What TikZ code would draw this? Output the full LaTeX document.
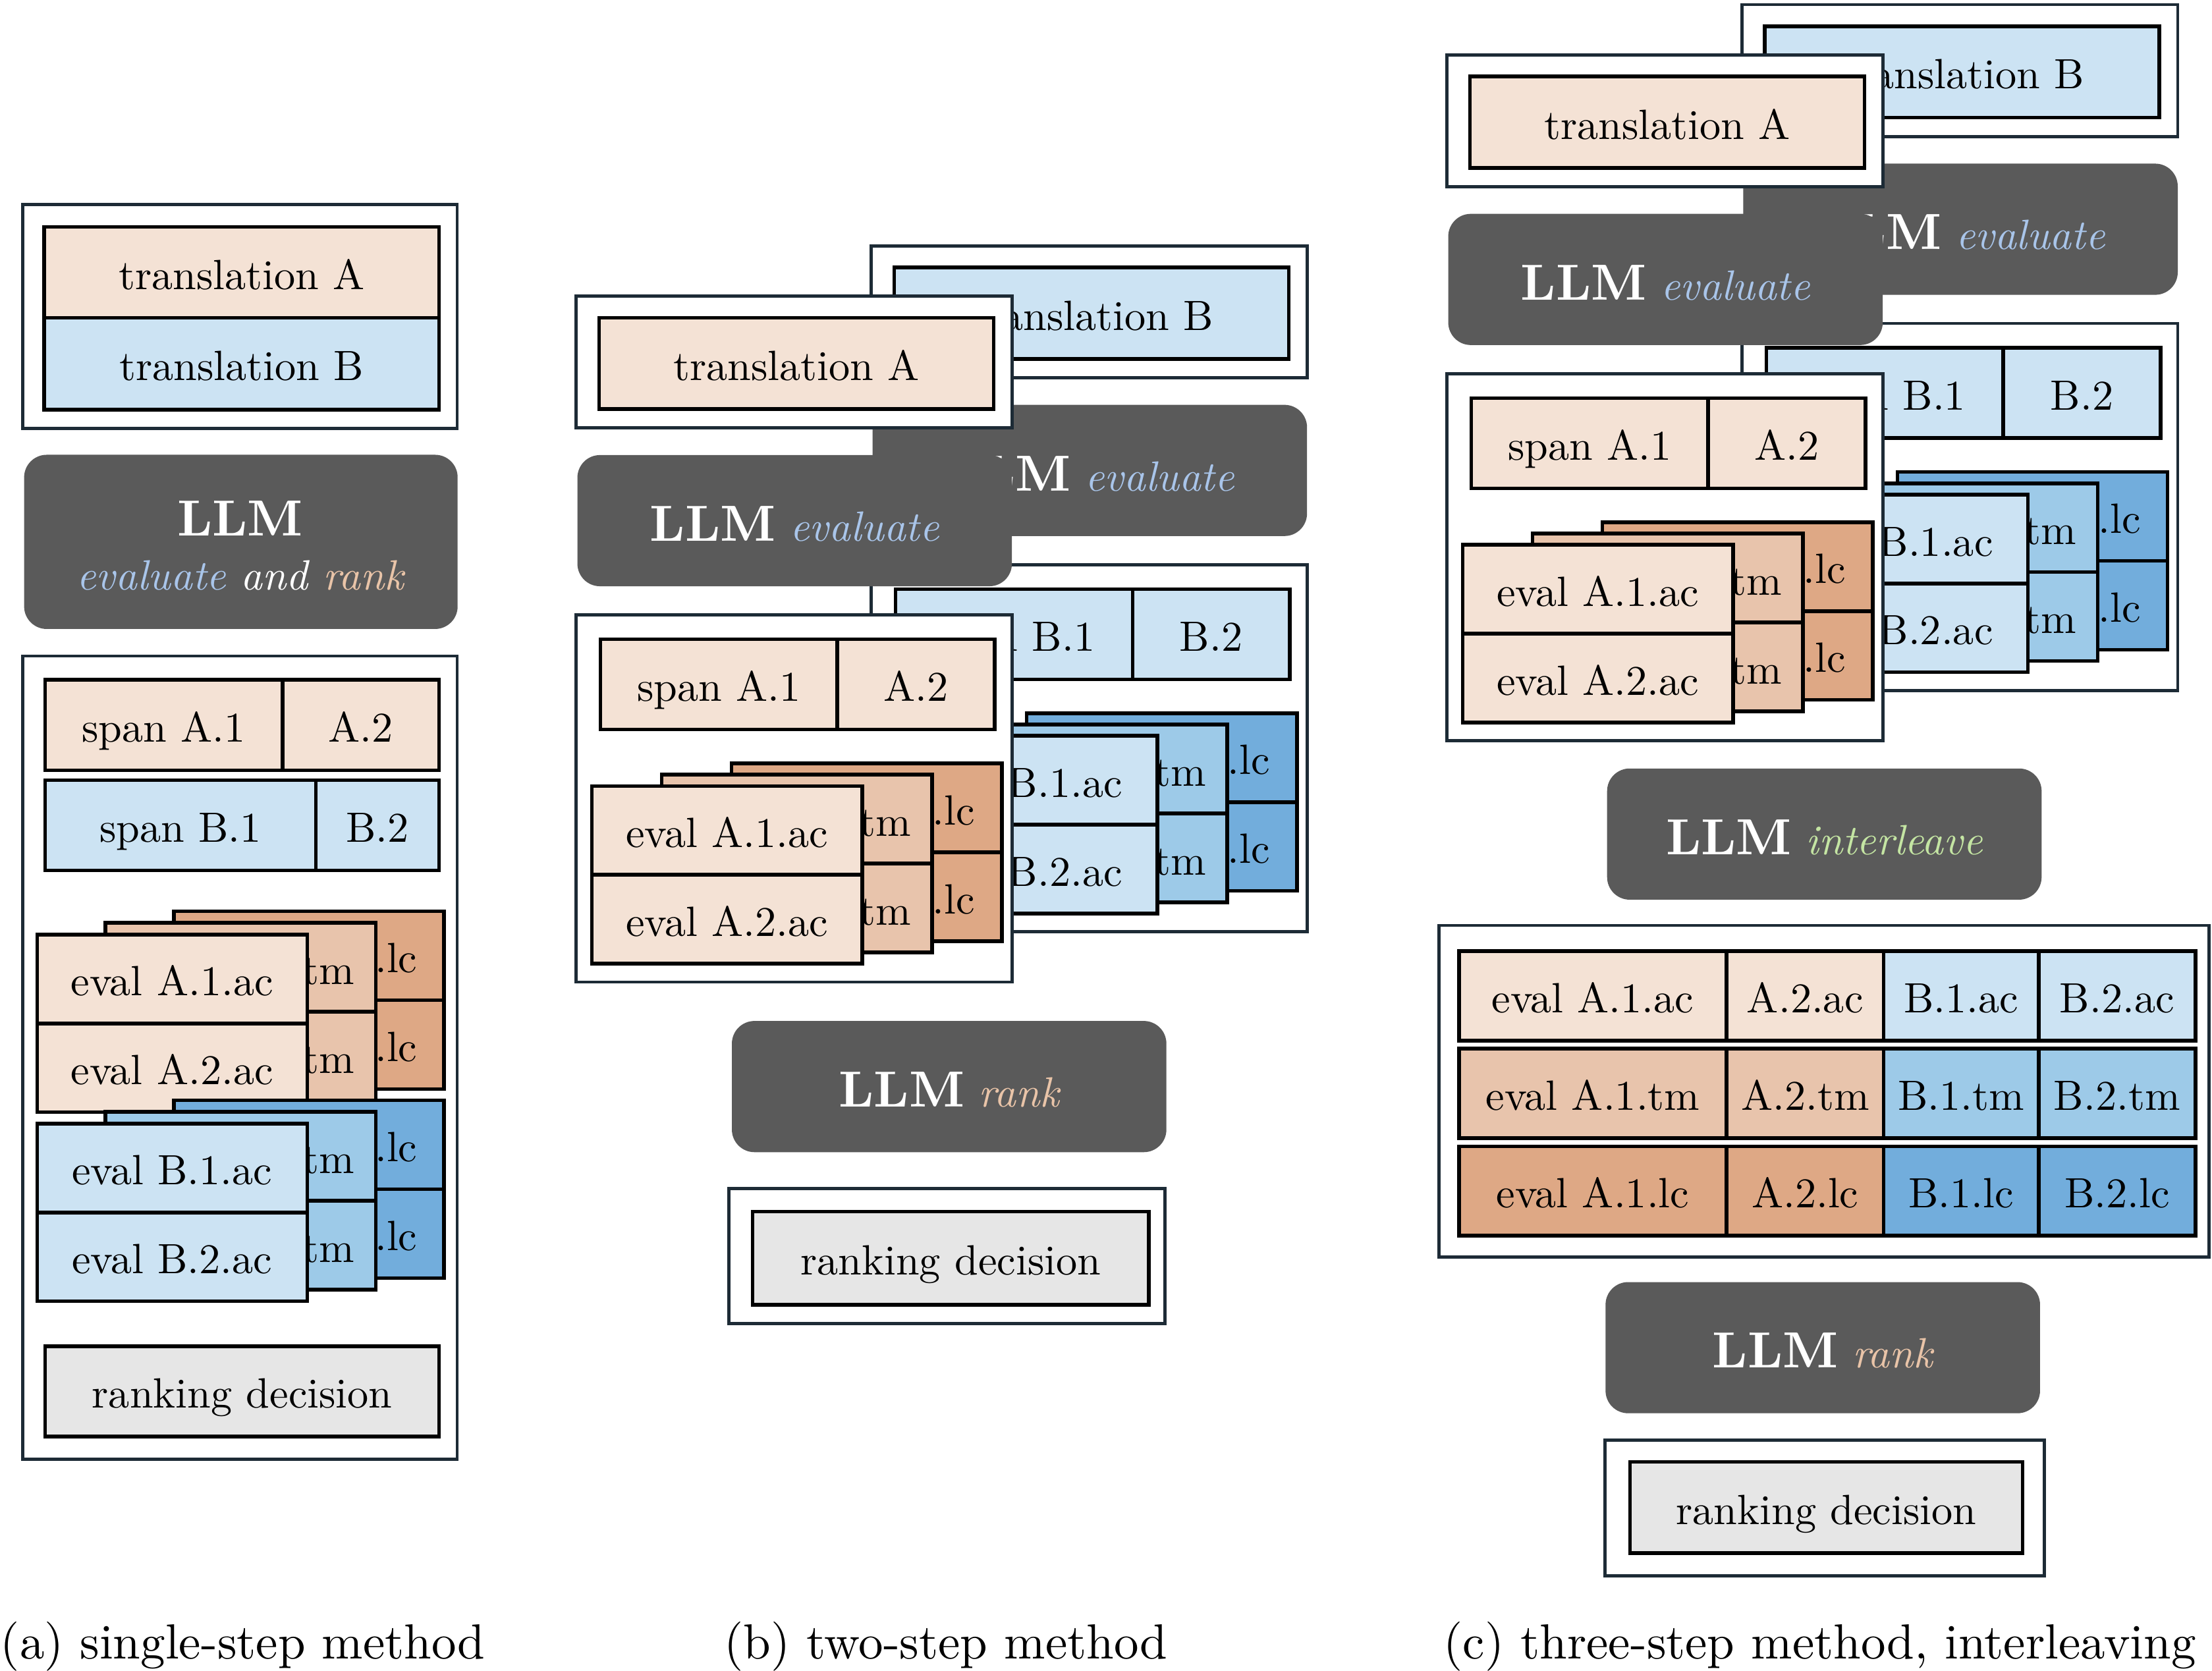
\documentclass[tikz,border=0pt]{standalone}
\usepackage{fontspec}
\setmainfont{lmroman10}[Extension=.otf, UprightFont=*-regular, BoldFont=*-bold, ItalicFont=*-italic]
\usepackage{tikz}

\definecolor{lightA}{HTML}{F4E2D5}
\definecolor{midA}{HTML}{E8C4AC}
\definecolor{darkA}{HTML}{DEA885}
\definecolor{lightB}{HTML}{CCE3F3}
\definecolor{midB}{HTML}{9DCAE8}
\definecolor{darkB}{HTML}{72ADDC}
\definecolor{llmgray}{HTML}{5A5A5A}
\definecolor{framenavy}{HTML}{1D2B36}
\definecolor{decgray}{HTML}{E6E6E6}
\definecolor{evalblue}{HTML}{A9C5EA}
\definecolor{rankpeach}{HTML}{E9C4A8}
\definecolor{leavegreen}{HTML}{C4E5A3}

\begin{document}
\begin{tikzpicture}[x=0.5pt, y=-0.5pt, font=\fontsize{15}{18}\selectfont,
    frame/.style={draw=framenavy, line width=1.1pt, fill=white},
    cell/.style={draw=black, line width=1.3pt, inner sep=0pt, anchor=north west, text height=14pt, text depth=2pt},
    card/.style={cell, minimum height=31.5pt, text width=80.75pt, inner xsep=7.5pt},
    backcard/.style={card, text width=76.75pt, inner xsep=9.5pt},
    llm/.style={fill=llmgray, rounded corners=8pt, text=white, inner sep=0pt, anchor=north west,
        text height=16pt, text depth=1.6pt, minimum width=154pt, minimum height=46.5pt},
    big/.style={font=\fontsize{18}{21}\selectfont\bfseries}]
        \useasboundingbox (0,0) rectangle (1568,1184.6);

        % (a) single-step method
        \draw [frame] (16,145) rectangle (324,303.7);
        \node[cell, fill=lightA, minimum width=140pt, minimum height=32.25pt] (trAa) at (30,159.5) {translation A};
        \node[cell, fill=lightB, minimum width=140pt, minimum height=32.5pt] (trBa) at (30,224) {translation B};

        \node[llm, minimum width=153.65pt, minimum height=61.75pt] (llma) at (16.7,322) {};
        \node[big, text=white, anchor=base] (llmaT) at (170.3,380) {LLM};
        \node[anchor=base, font=\fontsize{15}{18}\selectfont\itshape] (llmaS) at (170.3,418)
            {\textcolor{evalblue}{evaluate} \textcolor{white}{and} \textcolor{rankpeach}{rank}};

        \draw [frame] (16,465) rectangle (324,1034.6);
        \node[cell, fill=lightA, minimum width=84.15pt, minimum height=32pt] (spA1a) at (30.7,480.7) {span A.1};
        \node[cell, fill=lightA, minimum width=55.5pt, minimum height=32pt] (spA2a) at (199,480.7) {A.2};
        \node[cell, fill=lightB, minimum width=95.9pt, minimum height=32pt] (spB1a) at (30.7,551.8) {span B.1};
        \node[cell, fill=lightB, minimum width=43.75pt, minimum height=32pt] (spB2a) at (222.5,551.8) {B.2};
        \foreach \s/\y in {A/661.2, B/795.2}
            \foreach \lay/\col/\crit/\kind/\al in {2/dark/lc/backcard/right, 1/mid/tm/card/right, 0/light/ac/card/center}
                \foreach \row in {1,2}
                    \node[\kind, fill=\col\s, align=\al] (ev\s\row\crit a) at ({25+48.5*\lay},{\y-8.2*\lay+63*(\row-1)}) {eval \s.\row.\crit};
        \node[cell, fill=decgray, minimum width=139.65pt, minimum height=32pt] (deca) at (30.7,953) {ranking decision};

        % (b) two-step method and top of (c)
        \foreach \gx/\gy/\g/\p in {617.5/400.3/B/b, 408.3/435.9/A/b, 1234.7/229.3/B/c, 1025.6/264.9/A/c} {
            \begin{scope}[shift={(\gx,\gy)}]
                \draw [frame] (0,-226) rectangle (309,-132.5);
                \node[cell, fill=light\g, minimum width=139.85pt, minimum height=32.4pt] (tr\g\p) at (15,-212) {translation \g};
                \node[llm] (llm\g\p) at (0.6,-113.7) {{\fontsize{18}{21}\selectfont\bfseries LLM} \textcolor{evalblue}{\itshape evaluate}};
                \draw [frame] (0,0) rectangle (309,260.3);
                \node[cell, fill=light\g, minimum width=84pt, minimum height=32pt] (sp\g1\p) at (16,16) {span \g.1};
                \node[cell, fill=light\g, minimum width=55.75pt, minimum height=32pt] (sp\g2\p) at (184,16) {\g.2};
                \foreach \lay/\col/\crit/\kind/\al in {2/dark/lc/backcard/right, 1/mid/tm/card/right, 0/light/ac/card/center}
                    \foreach \row in {1,2}
                        \node[\kind, fill=\col\g, align=\al] (ev\g\row\crit\p) at ({10+49.5*\lay},{120-8*\lay+63*(\row-1)}) {eval \g.\row.\crit};
            \end{scope}
        }

        \node[llm] (rankb) at (518.4,723.4) {{\fontsize{18}{21}\selectfont\bfseries LLM} \textcolor{rankpeach}{\itshape rank}};
        \draw [frame] (516.6,842.6) rectangle (825.9,938.2);
        \node[cell, fill=decgray, minimum width=140.4pt, minimum height=33pt] (decb) at (532.2,857.6) {ranking decision};

        % (c) three-step method, interleaving
        \node[llm] (leavec) at (1138.8,544.4) {{\fontsize{18}{21}\selectfont\bfseries LLM} \textcolor{leavegreen}{\itshape interleave}};
        \draw [frame] (1020,656.1) rectangle (1565.8,891.3);
        \foreach \row/\col/\crit in {0/light/ac, 1/mid/tm, 2/dark/lc} {
            \node[cell, fill=\col A, minimum width=94.85pt, minimum height=31.75pt] (tA1\crit) at (1032.9,{672.9+69.2*\row}) {eval A.1.\crit};
            \node[cell, fill=\col A, minimum width=55.65pt, minimum height=31.75pt] (tA2\crit) at (1222.6,{672.9+69.2*\row}) {A.2.\crit\hspace{8pt}};
            \node[cell, fill=\col B, minimum width=54.95pt, minimum height=31.75pt] (tB1\crit) at (1333.9,{672.9+69.2*\row}) {B.1.\crit\hspace{8pt}};
            \node[cell, fill=\col B, minimum width=55.6pt, minimum height=31.75pt] (tB2\crit) at (1443.8,{672.9+69.2*\row}) {B.2.\crit\hspace{8pt}};
        }
        \node[llm] (rankc) at (1137.7,908.5) {{\fontsize{18}{21}\selectfont\bfseries LLM} \textcolor{rankpeach}{\itshape rank}};
        \draw [frame] (1137.7,1021) rectangle (1449,1117);
        \node[cell, fill=decgray, minimum width=139.15pt, minimum height=32.4pt] (decc) at (1154.1,1035) {ranking decision};

        % captions
        \node[anchor=base west, inner sep=0pt, font=\fontsize{17.5}{21}\selectfont] (capa) at (0,1176) {(a) single-step method};
        \node[anchor=base west, inner sep=0pt, font=\fontsize{17.5}{21}\selectfont] (capb) at (513,1176) {(b) two-step method};
        \node[anchor=base west, inner sep=0pt, font=\fontsize{17.5}{21}\selectfont] (capc) at (1023,1176) {(c) three-step method, interleaving};
    \end{tikzpicture}
\end{document}
